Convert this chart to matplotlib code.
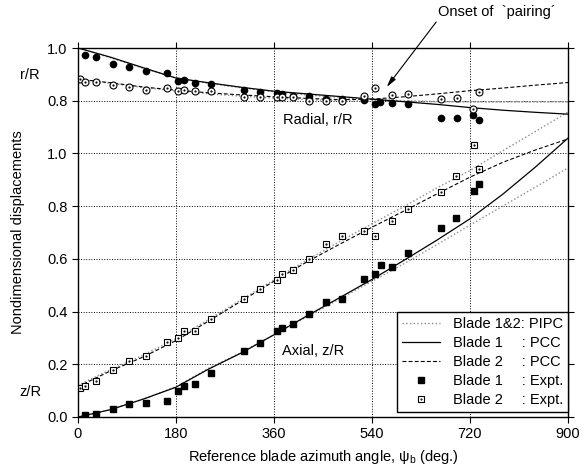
import matplotlib
matplotlib.use('Agg')
import matplotlib.pyplot as plt
from matplotlib.lines import Line2D
from matplotlib.legend_handler import HandlerTuple

plt.rcParams['font.family'] = ['Liberation Sans', 'DejaVu Sans']
plt.rcParams['font.size'] = 10.5
plt.rcParams['mathtext.fontset'] = 'custom'
plt.rcParams['mathtext.rm'] = 'Liberation Sans'

# radial r/R values are drawn on the same axis, shifted up by this amount
R_OFF = 0.4

# --- experimental points: axial z/R ---
b1_ax_psi = [13, 33, 64, 94, 124, 164, 183, 195, 215, 244, 304, 334, 365, 375,
             394, 425, 455, 484, 525, 545, 556, 576, 607, 666, 695, 727, 737]
b1_ax_val = [0.008, 0.011, 0.032, 0.051, 0.054, 0.062, 0.100, 0.119, 0.126,
             0.166, 0.249, 0.282, 0.327, 0.338, 0.354, 0.392, 0.436, 0.449,
             0.525, 0.544, 0.578, 0.570, 0.622, 0.718, 0.756, 0.856, 0.885]

b2_ax_psi = [3, 13, 33, 64, 94, 124, 164, 184, 195, 214, 244, 304, 334, 365,
             375, 395, 425, 455, 485, 525, 546, 576, 606, 666, 695, 727, 737]
b2_ax_val = [0.111, 0.118, 0.137, 0.178, 0.212, 0.231, 0.285, 0.300, 0.326,
             0.326, 0.372, 0.446, 0.484, 0.519, 0.544, 0.559, 0.599, 0.655,
             0.687, 0.707, 0.686, 0.745, 0.789, 0.855, 0.913, 1.033, 0.940]

# --- experimental points: radial r/R ---
b1_rad_psi = [13, 33, 64, 94, 124, 164, 183, 194, 214, 244, 304, 334, 365, 375,
              394, 425, 455, 485, 526, 546, 555, 576, 606, 666, 696, 726, 737]
b1_rad_val = [0.973, 0.966, 0.938, 0.928, 0.914, 0.904, 0.876, 0.877, 0.868,
              0.863, 0.839, 0.832, 0.830, 0.825, 0.817, 0.818, 0.805, 0.805,
              0.801, 0.786, 0.795, 0.792, 0.786, 0.734, 0.734, 0.744, 0.725]

b2_rad_psi = [3, 13, 33, 64, 94, 124, 164, 184, 194, 214, 244, 304, 334, 365,
              375, 394, 425, 455, 485, 526, 546, 576, 606, 666, 696, 726, 737]
b2_rad_val = [0.882, 0.871, 0.870, 0.858, 0.851, 0.842, 0.848, 0.838, 0.840,
              0.836, 0.836, 0.815, 0.814, 0.815, 0.815, 0.813, 0.799, 0.798,
              0.798, 0.819, 0.848, 0.820, 0.826, 0.808, 0.809, 0.768, 0.832]

# --- predictions ---
psi_c = [0, 60, 120, 180, 240, 300, 360, 420, 480, 540, 600, 660, 720, 780, 840, 900]
pcc1_ax = [0.0, 0.028, 0.068, 0.113, 0.182, 0.243, 0.312, 0.383, 0.452, 0.522,
           0.596, 0.672, 0.752, 0.845, 0.948, 1.058]
pcc2_ax = [0.115, 0.175, 0.228, 0.290, 0.364, 0.440, 0.515, 0.588, 0.655, 0.720,
           0.783, 0.847, 0.910, 0.966, 1.013, 1.055]
pipc1_ax = [0.0, 0.028, 0.068, 0.115, 0.185, 0.245, 0.312, 0.380, 0.447, 0.515,
            0.583, 0.655, 0.728, 0.800, 0.872, 0.945]
pipc2_ax = [0.120, 0.180, 0.235, 0.297, 0.370, 0.445, 0.520, 0.595, 0.665, 0.733,
            0.800, 0.870, 0.935, 1.010, 1.083, 1.157]
pcc1_rad = [1.0, 0.965, 0.925, 0.886, 0.868, 0.851, 0.836, 0.826, 0.816, 0.806,
            0.796, 0.786, 0.774, 0.764, 0.756, 0.749]
pcc2_rad = [0.882, 0.868, 0.852, 0.840, 0.830, 0.822, 0.815, 0.809, 0.804, 0.806,
            0.815, 0.826, 0.838, 0.848, 0.859, 0.869]
pipc1_rad = [1.0, 0.963, 0.923, 0.886, 0.866, 0.849, 0.834, 0.822, 0.812, 0.805,
             0.800, 0.797, 0.796, 0.796, 0.796, 0.796]
pipc2_rad = [0.882, 0.866, 0.850, 0.837, 0.826, 0.817, 0.810, 0.804, 0.800, 0.798,
             0.797, 0.796, 0.796, 0.796, 0.796, 0.796]

y_ticks = [0.0, 0.2, 0.4, 0.6, 0.8, 1.0, 1.2, 1.4]
y_tick_labels = ['0.0', '0.2', '0.4', '0.6', '0.8', '1.0', '0.8', '1.0']
x_ticks = [0, 180, 360, 540, 720, 900]


def shift(vals):
    return [v + R_OFF for v in vals]


fig = plt.figure(figsize=(5.87, 4.71), dpi=100)
ax = fig.add_axes([78 / 587, 54 / 471, 490 / 587, 369 / 471])

grey = '#8c8c8c'
dash = (3.5, 2.0)

# PIPC (dotted grey)
ax.plot(psi_c, pipc1_ax, ls=':', color=grey, lw=1.0)
ax.plot(psi_c, pipc2_ax, ls=':', color=grey, lw=1.0)
ax.plot(psi_c, shift(pipc1_rad), ls=':', color=grey, lw=1.0)
ax.plot(psi_c, shift(pipc2_rad), ls=':', color=grey, lw=1.0)

# PCC
ax.plot(psi_c, pcc1_ax, '-', color='k', lw=0.9)
ax.plot(psi_c, shift(pcc1_rad), '-', color='k', lw=0.9)
ax.plot(psi_c, pcc2_ax, color='k', lw=0.8, dashes=dash)
ax.plot(psi_c, shift(pcc2_rad), color='k', lw=0.8, dashes=dash)

# experiment
ax.plot(b1_ax_psi, b1_ax_val, 's', color='k', ms=5, ls='none')
ax.plot(b2_ax_psi, b2_ax_val, 's', mfc='white', mec='k', mew=0.8, ms=5, ls='none')
ax.plot(b2_ax_psi, b2_ax_val, '.', color='k', ms=1.2, ls='none')
ax.plot(b1_rad_psi, shift(b1_rad_val), 'o', color='k', ms=4.5, ls='none')
ax.plot(b2_rad_psi, shift(b2_rad_val), 'o', mfc='white', mec='k', mew=0.8, ms=5, ls='none')
ax.plot(b2_rad_psi, shift(b2_rad_val), '.', color='k', ms=1.2, ls='none')

ax.set_xlim(0, 900)
ax.set_ylim(0, 1.4)
ax.set_xticks(x_ticks)
ax.set_yticks(y_ticks)
ax.set_yticklabels(y_tick_labels)
ax.tick_params(direction='out', length=4, width=0.8, top=True, right=True,
               labeltop=False, labelright=False, labelsize=10.5)
ax.grid(True, ls=':', color='k', lw=0.7)
for s in ax.spines.values():
    s.set_linewidth(1.0)

ax.set_xlabel('Reference blade azimuth angle, ψ$_\\mathregular{b}$ (deg.)', labelpad=5)
ax.set_ylabel('Nondimensional displacements', labelpad=16)

ax.text(376, 1.127, 'Radial, r/R', va='center', ha='left')
ax.text(375, 0.25, 'Axial, z/R', va='center', ha='left')
ax.text(-88, 1.297, 'r/R', va='center', ha='center', clip_on=False)
ax.text(-88, 0.095, 'z/R', va='center', ha='center', clip_on=False)

ax.annotate('Onset of  `pairing\u00b4', xy=(567, 1.252), xytext=(770, 1.536),
            ha='center', va='center', annotation_clip=False,
            arrowprops=dict(arrowstyle='-|>,head_length=0.6,head_width=0.15',
                            color='k', lw=0.8, relpos=(0.0, 0.0), shrinkA=0, shrinkB=0))

# legend
h_pipc = Line2D([], [], ls=':', color=grey, lw=1.0)
h_pcc1 = Line2D([], [], ls='-', color='k', lw=0.9)
h_pcc2 = Line2D([], [], color='k', lw=0.8, dashes=dash)
h_e1 = Line2D([], [], marker='s', color='k', ms=4.5, ls='none')
h_e2a = Line2D([], [], marker='s', mfc='white', mec='k', mew=0.8, ms=4.5, ls='none')
h_e2b = Line2D([], [], marker='.', color='k', ms=1.0, ls='none')
sp = '\u2002\u2002 '
labels = ['Blade 1&2: PIPC', 'Blade 1' + sp + ': PCC', 'Blade 2' + sp + ': PCC',
          'Blade 1' + sp + ': Expt.', 'Blade 2' + sp + ': Expt.']
leg = ax.legend([h_pipc, h_pcc1, h_pcc2, h_e1, (h_e2a, h_e2b)], labels,
                handler_map={tuple: HandlerTuple(ndivide=1, pad=0)},
                loc='lower right', bbox_to_anchor=(1.0, 0.0136), borderaxespad=0,
                fancybox=False, framealpha=1, edgecolor='k', fontsize=10.5,
                handlelength=2.6, handletextpad=0.9, labelspacing=0.34,
                borderpad=0.35)
leg.get_frame().set_linewidth(1.0)

fig.savefig('out.png', dpi=100)
